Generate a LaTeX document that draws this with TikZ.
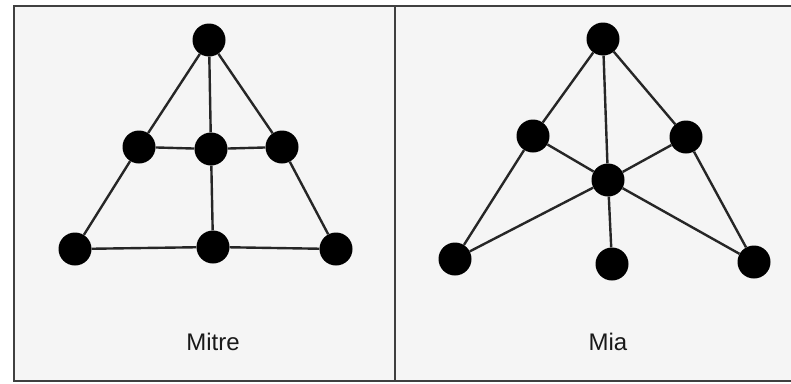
\documentclass[tikz,border=0pt]{standalone}
\usepackage{fontspec}
\setmainfont{Liberation Sans}
\begin{document}
\begin{tikzpicture}[x=1pt,y=-1pt,
  dot/.style={circle,fill=black,inner sep=0pt,minimum size=33pt},
  edge/.style={line width=2.4pt,black!85},
  frameline/.style={line width=2pt,black!75},
  caption/.style={font=\fontsize{24}{28}\selectfont,text=black!90}]
\useasboundingbox (0,0) rectangle (791,383);
% panel backgrounds
\fill[black!4] (14,6) rectangle (791,381);
% frame
\draw[frameline] (791,6) -- (14,6) -- (14,381) -- (791,381);
\draw[frameline] (395,6) -- (395,381);

% Mitre
\node[dot] (t)  at (209,40)  {};
\node[dot] (ml) at (139,147) {};
\node[dot] (mc) at (211,149) {};
\node[dot] (mr) at (282,147) {};
\node[dot] (bl) at (75,249)  {};
\node[dot] (bc) at (213,247) {};
\node[dot] (br) at (336,249) {};
\draw[edge] (t) -- (ml) -- (bl) -- (bc) -- (br) -- (mr) -- (t);
\draw[edge] (t) -- (mc) -- (bc);
\draw[edge] (ml) -- (mc) -- (mr);
\node[caption] (mitre) at (213,342) {Mitre};

% Mia
\node[dot] (T)  at (603,39)  {};
\node[dot] (ML) at (533,136) {};
\node[dot] (MR) at (686,137) {};
\node[dot] (C)  at (608,180) {};
\node[dot] (BL) at (455,259) {};
\node[dot] (BC) at (612,264) {};
\node[dot] (BR) at (754,262) {};
\draw[edge] (T) -- (ML) -- (BL) -- (C) -- (BR) -- (MR) -- (T);
\draw[edge] (T) -- (C) -- (BC);
\draw[edge] (ML) -- (C) -- (MR);
\node[caption] (mia) at (608,342) {Mia};
\end{tikzpicture}
\end{document}
